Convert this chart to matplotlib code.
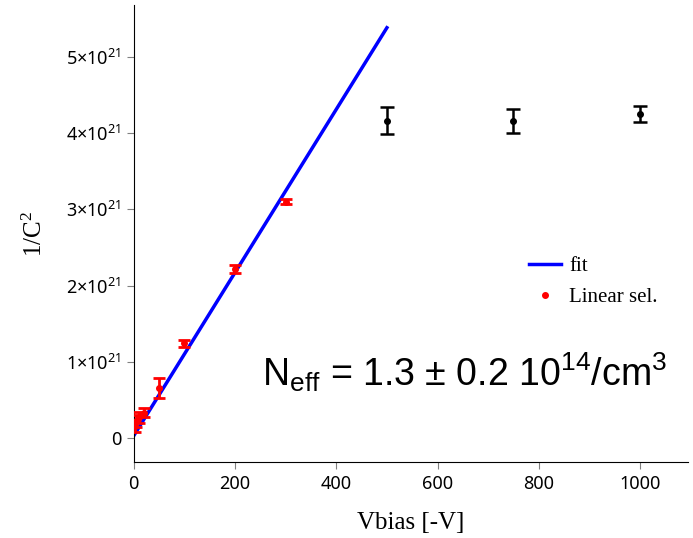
import numpy as np
import matplotlib
matplotlib.use('Agg')
import matplotlib.pyplot as plt
from matplotlib.ticker import FuncFormatter
from matplotlib.lines import Line2D

# linear selection (red) and saturated points (black)
lin_v = [2, 5, 10, 20, 50, 100, 200, 300]
lin_c = [0.16e21, 0.22e21, 0.27e21, 0.33e21, 0.66e21, 1.24e21, 2.22e21, 3.10e21]
lin_err = [0.08e21, 0.08e21, 0.07e21, 0.06e21, 0.13e21, 0.05e21, 0.05e21, 0.03e21]

sat_v = [500, 750, 1000]
sat_c = [4.16e21, 4.16e21, 4.25e21]
sat_err = [0.18e21, 0.16e21, 0.11e21]

fit_v = [0, 500]
fit_c = [0.03e21, 5.38e21]

fig = plt.figure(figsize=(6.93, 5.38), dpi=100)
ax = fig.add_axes([0.193, 0.141, 0.8, 0.85])

ax.plot(fit_v, fit_c, '-', color='#0000ff', lw=2.5, zorder=2)
ax.errorbar(lin_v, lin_c, yerr=lin_err, fmt='o', color='red', ms=4,
            elinewidth=2, capsize=4, capthick=2, zorder=3)
ax.errorbar(sat_v, sat_c, yerr=sat_err, fmt='o', color='black', ms=4,
            elinewidth=1.8, capsize=5, capthick=1.8, zorder=3)

ax.set_xlim(0, 1095)
ax.set_ylim(-0.316e21, 5.68e21)
ax.set_xticks([0, 200, 400, 600, 800, 1000])
ax.set_yticks([0, 1e21, 2e21, 3e21, 4e21, 5e21])

def yfmt(v, pos):
    n = int(round(v / 1e21))
    if n == 0:
        return '0'
    return r'$\mathregular{%d{\times}10^{21}}$' % n

ax.yaxis.set_major_formatter(FuncFormatter(yfmt))
for s in ['top', 'right']:
    ax.spines[s].set_visible(False)
ax.tick_params(direction='out', length=5, color='gray', labelsize=13, pad=4)
for lab in ax.get_xticklabels() + ax.get_yticklabels():
    lab.set_family('Noto Sans')

ax.set_xlabel('Vbias [-V]', family='Liberation Serif', fontsize=18, labelpad=14)
ax.set_ylabel(r'1/C$\mathregular{^2}$', family='Liberation Serif', fontsize=18, labelpad=14)

handles = [Line2D([], [], color='#0000ff', lw=2.5),
           Line2D([], [], marker='o', ls='none', color='red', ms=4)]
ax.legend(handles, ['fit', 'Linear sel.'], loc='upper left',
          bbox_to_anchor=(0.68, 0.49), frameon=False,
          prop={'family': 'Liberation Serif', 'size': 15},
          handlelength=1.5, handletextpad=0.4, labelspacing=0.55)

ax.text(0.232, 0.168, r'N$\mathregular{_{eff}}$ = 1.3 ± 0.2 10$\mathregular{^{14}}$/cm$\mathregular{^3}$',
        transform=ax.transAxes, family='Liberation Sans', fontsize=27,
        ha='left', va='baseline')

fig.savefig('out.png', dpi=100)
